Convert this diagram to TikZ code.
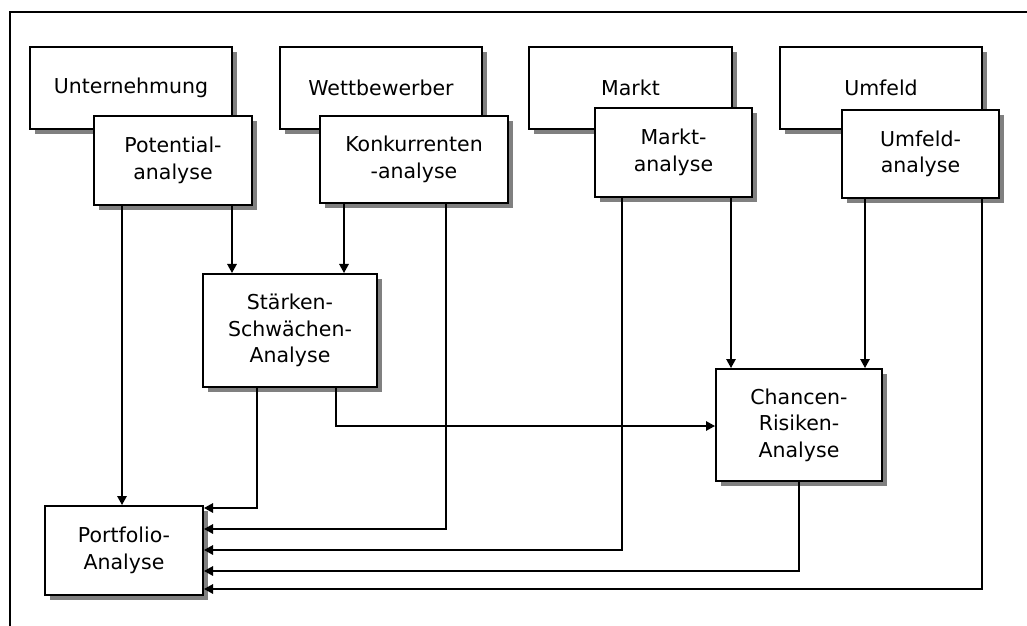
\documentclass[tikz,border=0pt]{standalone}
\usepackage{fontspec}
\setmainfont{DejaVu Sans}
\usetikzlibrary{arrows.meta,calc}

\tikzset{
  box/.style={draw, line width=2bp, fill=white, align=center, inner sep=0pt,
    font=\fontsize{20.5bp}{26.5bp}\selectfont},
  boxshadow/.style={fill=black!50, draw=none},
  conn/.style={line width=1.4bp, -{Triangle[length=9bp,width=9.5bp]}},
  frame/.style={line width=2bp}
}

% a box with its drop shadow: name, centre, width, height, text
\newcommand\shadedbox[6][box]{%
  \fill[boxshadow] ($(#3)+(-#4/2+5,-#5/2+5)$) rectangle ($(#3)+(#4/2+5,#5/2+5)$);
  \node[#1, minimum width=#4bp, minimum height=#5bp] (#2) at (#3) {#6};
}

\begin{document}
\begin{tikzpicture}[x=1bp, y=-1bp]
  \useasboundingbox (0,0) rectangle (1027,626);
  \begin{scope}
  \clip (0,0) rectangle (1027,626);
  % surrounding frame (runs past the lower and right edges)
  \draw[frame] (10,700) -- (10,12) -- (1100,12);
  \end{scope}

  % subject areas
  \shadedbox{unt}{131,88}{202}{82}{Unternehmung}
  \shadedbox{wett}{381,88}{202}{82}{Wettbewerber}
  \shadedbox{mkt}{630.5,88}{203}{82}{Markt}
  \shadedbox{umf}{881,88}{202}{82}{Umfeld}

  % analyses of the subject areas
  \shadedbox{pot}{173,160.5}{158}{89}{Potential-\\analyse}
  \shadedbox{konk}{414,159.5}{188}{87}{Konkurrenten\\-analyse}
  \shadedbox{mkta}{673.5,152.5}{157}{89}{Markt-\\analyse}
  \shadedbox{umfa}{920.5,154}{157}{88}{Umfeld-\\analyse}

  % synthesis
  \shadedbox{sws}{290,330.5}{174}{113}{Stärken-\\Schwächen-\\Analyse}
  \shadedbox{cra}{799,425}{166}{112}{Chancen-\\Risiken-\\Analyse}
  \shadedbox{port}{124,550.5}{158}{89}{Portfolio-\\Analyse}

  % connectors into the strengths/weaknesses analysis
  \draw[conn] (pot.south -| 232,0)  -- (sws.north -| 232,0);
  \draw[conn] (konk.south -| 344,0) -- (sws.north -| 344,0);

  % connectors into the opportunities/risks analysis
  \draw[conn] (mkta.south -| 731,0) -- (cra.north -| 731,0);
  \draw[conn] (umfa.south -| 865,0) -- (cra.north -| 865,0);
  \draw[conn] (sws.south -| 336,0) |- (cra.west |- 0,426);

  % connectors into the portfolio analysis
  \draw[conn] (pot.south -| 122,0)  -- (port.north -| 122,0);
  \draw[conn] (sws.south -| 257,0)  |- (port.east |- 0,508);
  \draw[conn] (konk.south -| 446,0) |- (port.east |- 0,529);
  \draw[conn] (mkta.south -| 622,0) |- (port.east |- 0,550);
  \draw[conn] (cra.south -| 799,0)  |- (port.east |- 0,571);
  \draw[conn] (umfa.south -| 982,0) |- (port.east |- 0,589);
\end{tikzpicture}
\end{document}
